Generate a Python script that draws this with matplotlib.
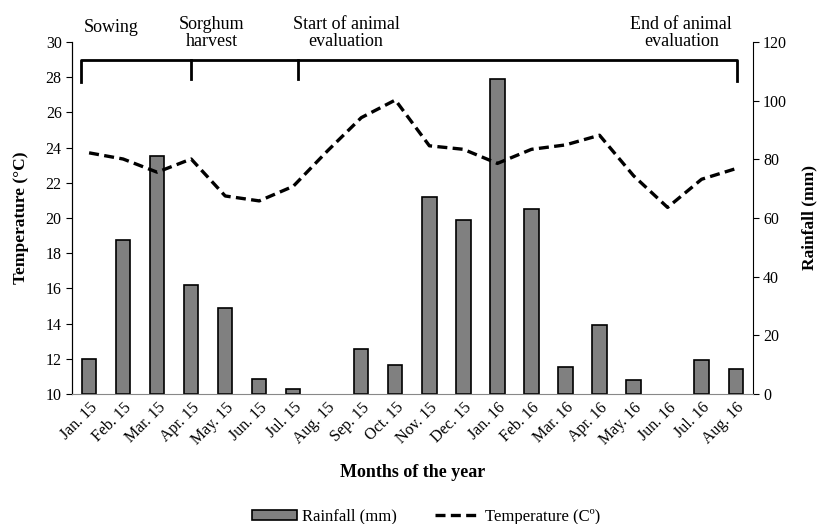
import matplotlib.pyplot as plt

plt.rcParams['font.family'] = ['Liberation Serif', 'DejaVu Serif']

months = ['Jan. 15', 'Feb. 15', 'Mar. 15', 'Apr. 15', 'May. 15', 'Jun. 15', 'Jul. 15',
          'Aug. 15', 'Sep. 15', 'Oct. 15', 'Nov. 15', 'Dec. 15', 'Jan. 16', 'Feb. 16',
          'Mar. 16', 'Apr. 16', 'May. 16', 'Jun. 16', 'Jul. 16', 'Aug. 16']
rainfall = [12, 52.5, 81, 37.2, 29.4, 5.1, 1.8, 0, 15.3, 9.9,
            67.2, 59.4, 107.4, 63, 9.3, 23.7, 4.8, 0, 11.7, 8.4]
temperature = [23.7, 23.35, 22.6, 23.35, 21.25, 20.97, 21.8, 23.8, 25.7, 26.7,
               24.1, 23.9, 23.1, 23.9, 24.15, 24.7, 22.4, 20.6, 22.2, 22.8]

x = list(range(len(months)))

fig = plt.figure(figsize=(8.19, 5.24), dpi=100)
ax1 = fig.add_axes([0.088, 0.248, 0.831, 0.672])
ax2 = ax1.twinx()

# barras na osi prawej, linia na lewej
bars = ax2.bar(x, rainfall, width=0.42, color='#808080', edgecolor='black', linewidth=1.2,
               label='Rainfall (mm)', zorder=2)
for b in bars:
    if b.get_height() == 0:
        b.set_visible(False)
ax1.plot(x, temperature, color='black', linestyle=(0, (3, 1.6)), linewidth=2.4,
         label='Temperature (Cº)', zorder=5)
ax1.set_zorder(ax2.get_zorder() + 1)
ax1.patch.set_visible(False)

ax1.set_xlim(-0.5, 19.5)
ax1.set_ylim(10, 30)
ax1.set_yticks(range(10, 31, 2))
ax2.set_ylim(0, 120)
ax2.set_yticks(range(0, 121, 20))

ax1.set_xticks(x)
ax1.set_xticklabels(months, rotation=45, ha='right', rotation_mode='anchor', fontsize=11.5)
ax1.tick_params(axis='x', length=0, pad=4)
ax1.tick_params(axis='y', labelsize=11.5, direction='out', length=4)
ax2.tick_params(axis='y', labelsize=11.5, direction='out', length=4)

for ax in (ax1, ax2):
    ax.spines['top'].set_visible(False)
ax1.spines['right'].set_visible(False)
ax1.spines['bottom'].set_color('#888888')
ax2.spines['bottom'].set_visible(False)

ax1.set_ylabel('Temperature (°C)', fontsize=12.5, fontweight='bold', labelpad=12)
ax2.set_ylabel('Rainfall (mm)', fontsize=12.5, fontweight='bold', labelpad=10)
ax1.set_xlabel('Months of the year', fontsize=13, fontweight='bold', labelpad=12)

# klamra z wydarzeniami
ax1.plot([-0.25, -0.25, 19.05, 19.05], [27.7, 29, 29, 27.8], color='black', lw=2, clip_on=False)
ax1.plot([3, 3], [29, 27.9], color='black', lw=2)
ax1.plot([6.15, 6.15], [29, 27.9], color='black', lw=2)
ax1.text(0.65, 30.8, 'Sowing', ha='center', va='center', fontsize=13)
ax1.text(3.6, 30.5, 'Sorghum\nharvest', ha='center', va='center', fontsize=13, linespacing=0.95)
ax1.text(7.55, 30.5, 'Start of animal\nevaluation', ha='center', va='center', fontsize=13, linespacing=0.95)
ax1.text(17.4, 30.5, 'End of animal\nevaluation', ha='center', va='center', fontsize=13, linespacing=0.95)

h1, l1 = ax2.get_legend_handles_labels()
h2, l2 = ax1.get_legend_handles_labels()
fig.legend(h1 + h2, l1 + l2, loc='lower center', bbox_to_anchor=(0.52, -0.03), ncol=2,
           frameon=False, fontsize=12, handlelength=2.7, handletextpad=0.3, columnspacing=2.3,
           handleheight=0.5)

plt.savefig('out.png', dpi=100)
